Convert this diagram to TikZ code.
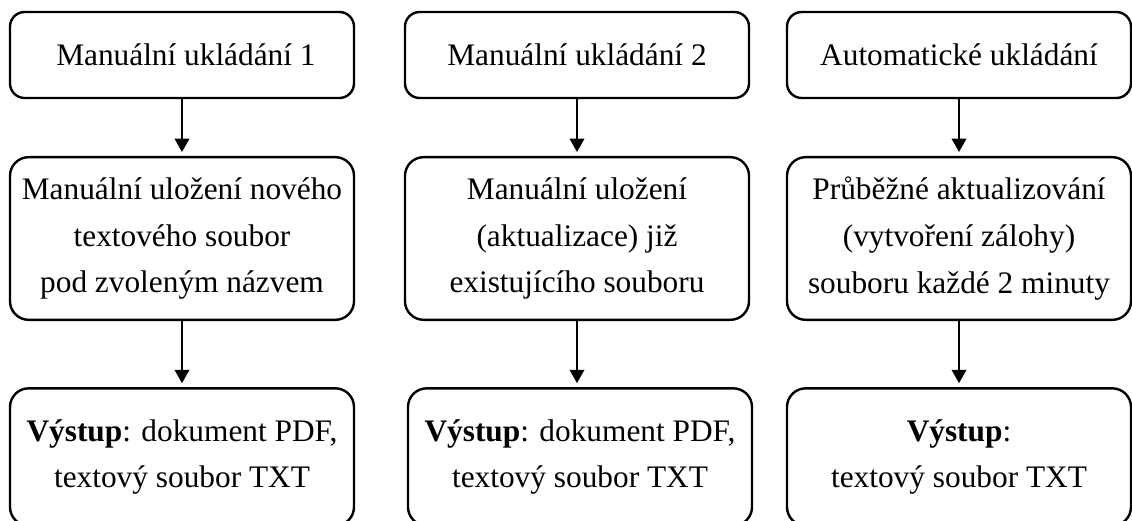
\documentclass[tikz,border=0pt]{standalone}
\usepackage{fontspec}
\setmainfont{Liberation Serif}
\usetikzlibrary{arrows.meta}

\tikzset{
    box/.style={draw, line width=1.8pt, rounded corners=14pt, align=center,
        minimum width=258pt, font=\fontsize{23.5}{35}\selectfont},
    head/.style={box, rounded corners=11pt, minimum height=64.5pt},
    task/.style={box, minimum height=122pt},
    result/.style={box, minimum height=103pt},
    flow/.style={line width=1.2pt, -{Triangle[length=10pt,width=11pt]}, shorten >=3pt}
}

\begin{document}
\begin{tikzpicture}[x=0.75pt,y=-0.75pt]
            \useasboundingbox (0,0) rectangle (1132,521);
            \node[head](H1) at (182,55)    {\ Manuální ukládání 1};
            \node[head](H2) at (577,55)    {Manuální ukládání 2};
            \node[head](H3) at (959,55)    {Automatické ukládání};
            \node[task](T1) at (182,238.5) {Manuální uložení nového\\textového soubor\\pod zvoleným názvem};
            \node[task](T2) at (577,238.5) {Manuální uložení\\(aktualizace) již\\existujícího souboru};
            \node[task](T3) at (959,238.5) {Průběžné aktualizování\\(vytvoření zálohy)\\souboru každé 2 minuty};
            \node[result](R1) at (182,457) {\textbf{Výstup}: dokument PDF,\\textový soubor TXT};
            \node[result](R2) at (580,457) {\textbf{Výstup}: dokument PDF,\\textový soubor TXT};
            \node[result](R3) at (959,457) {\textbf{Výstup}:\\textový soubor TXT};
            \path[flow]
                (H1) edge (T1)
                (T1) edge (R1)
                (H2) edge (T2)
                (T2.south) edge (T2.south |- R2.north)
                (H3) edge (T3)
                (T3) edge (R3)
                ;
        \end{tikzpicture}
\end{document}
